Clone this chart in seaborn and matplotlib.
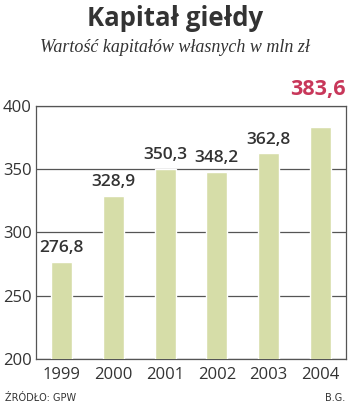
import matplotlib
matplotlib.use("Agg")
import matplotlib.pyplot as plt
import seaborn as sns
import pandas as pd

years = ["1999", "2000", "2001", "2002", "2003", "2004"]
values = [276.8, 328.9, 350.3, 348.2, 362.8, 383.6]
labels = ["276,8", "328,9", "350,3", "348,2", "362,8", "383,6"]
yticks = [200, 250, 300, 350, 400]

sns.set_theme(style="white")
plt.rcParams['font.family'] = ['Open Sans', 'DejaVu Sans']

fig = plt.figure(figsize=(3.5, 4.08), dpi=100)
ax = fig.add_axes([36/350, 1-359/408, 310/350, (359-106)/408])

df = pd.DataFrame({"year": years, "value": values})
sns.barplot(data=df, x="year", y="value", color="#d6dda8", saturation=1,
            width=0.41, ax=ax, zorder=3)

ax.set_ylim(200, 400)
ax.set_xlim(-0.5, 5.5)
ax.set_yticks(yticks)
ax.set_yticklabels([str(t) for t in yticks])
ax.yaxis.grid(True, color="#555555", linewidth=0.9, zorder=1)
ax.set_axisbelow(True)
for s in ax.spines.values():
    s.set_visible(True)
    s.set_color("#555555")
    s.set_linewidth(0.9)
ax.tick_params(axis="both", length=0, labelsize=12, colors="#333333")
ax.tick_params(axis="x", pad=6)
ax.tick_params(axis="y", pad=3)
ax.set_xlabel("")
ax.set_ylabel("")

for i, (v, lab) in enumerate(zip(values, labels)):
    if i == len(values) - 1:
        ax.annotate(lab, (i, v), xytext=(-2, 19), textcoords="offset points",
                    ha="center", va="bottom", fontsize=15.5, fontweight="bold",
                    color="#c8375a", annotation_clip=False)
    else:
        ax.annotate(lab, (i, v), xytext=(0, 4), textcoords="offset points",
                    ha="center", va="bottom", fontsize=12.5, fontweight="semibold",
                    color="#333333", annotation_clip=False)

fig.text(0.5, 1-18/408, "Kapitał giełdy", ha="center", va="center",
         fontsize=18.5, fontweight="bold", color="#333333")
fig.text(0.5, 1-48/408, "Wartość kapitałów własnych w mln zł", ha="center",
         va="center", fontsize=13, style="italic", color="#333333",
         family=["Liberation Serif", "DejaVu Serif"])
fig.text(5/350, 1-398/408, "ŹRÓDŁO: GPW", ha="left", va="center",
         fontsize=7, color="#333333", family=["Liberation Sans Narrow", "DejaVu Sans"])
fig.text(345/350, 1-398/408, "B.G.", ha="right", va="center",
         fontsize=7, color="#333333", family=["Liberation Sans Narrow", "DejaVu Sans"])

fig.savefig("out.png", dpi=100)
